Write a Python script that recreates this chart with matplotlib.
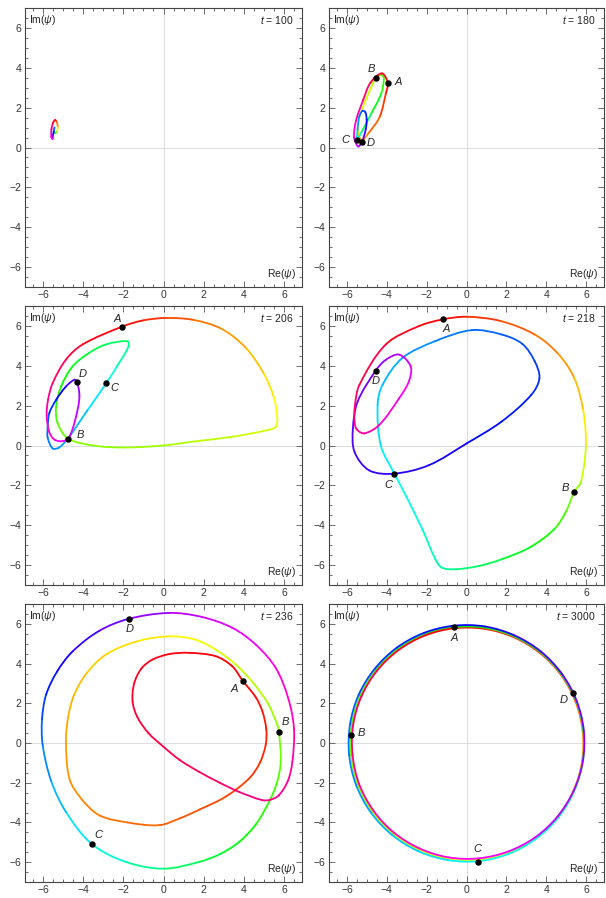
import matplotlib
matplotlib.use('Agg')
import matplotlib.pyplot as plt
import numpy as np
from matplotlib.colors import hsv_to_rgb
from matplotlib.patches import PathPatch
from matplotlib.path import Path
from matplotlib.ticker import MultipleLocator

plt.rcParams['font.family'] = ['Liberation Sans', 'DejaVu Sans']
plt.rcParams['mathtext.fontset'] = 'custom'
plt.rcParams['mathtext.rm'] = 'Liberation Sans'
plt.rcParams['mathtext.it'] = 'Liberation Sans:italic'

# ---- data: points along each closed curve + hue (phase) ----
# t = 100
x100 = [-5.40, -5.31, -5.27, -5.31, -5.40, -5.45, -5.43, -5.47, -5.51, -5.53, -5.59, -5.58, -5.50]
y100 = [1.38, 1.26, 1.02, 0.80, 0.72, 0.88, 1.00, 0.80, 0.60, 0.43, 0.54, 0.92, 1.24]
h100 = [0.0, 0.06, 0.12, 0.20, 0.30, 0.45, 0.55, 0.65, 0.72, 0.78, 0.85, 0.90, 0.96]

# t = 180
x180 = [-3.95, -4.05, -4.36, -4.94, -5.25, -5.42, -5.40, -5.07, -4.70, -4.56, -4.30, -4.15,
        -4.28, -4.78, -5.27, -5.49, -5.47, -5.38, -5.22, -5.08, -5.01, -5.06, -5.24, -5.44,
        -5.64, -5.54, -5.19, -4.82, -4.25]
y180 = [3.25, 2.70, 1.53, 0.69, 0.35, 0.70, 1.40, 2.35, 3.20, 3.47, 3.65, 3.50,
        2.71, 1.70, 0.77, 0.40, 0.90, 1.55, 1.84, 1.78, 1.40, 0.90, 0.30, 0.05,
        0.52, 1.36, 2.37, 3.25, 3.72]
h180 = [0.0, 0.02, 0.05, 0.08, 0.10, 0.13, 0.15, 0.18, 0.22, 0.25, 0.27, 0.29,
        0.32, 0.37, 0.43, 0.50, 0.54, 0.58, 0.61, 0.63, 0.66, 0.69, 0.75, 0.79,
        0.84, 0.87, 0.91, 0.95, 0.98]
mx180 = [-3.95, -4.56, -5.49, -5.24]
my180 = [3.25, 3.47, 0.40, 0.30]

# t = 206
x206 = [-2.05, -1.0, 0.15, 1.5, 2.9, 4.1, 5.0, 5.5, 5.67, 5.6, 5.3, 3.5, 1.5, 0.0, -2.0, -3.5,
        -4.76, -5.27, -5.35, -5.1, -4.53, -3.7, -2.87, -1.79, -1.75, -2.3, -2.85, -3.8, -4.76,
        -5.2, -5.52, -5.77, -5.77, -5.69, -5.35, -4.86, -4.44, -4.31, -4.19, -4.36, -4.69,
        -5.0, -5.44, -5.7, -5.82, -5.75, -5.52, -4.86, -4.03]
y206 = [5.97, 6.28, 6.40, 6.30, 5.85, 4.90, 3.60, 2.40, 1.40, 0.95, 0.80, 0.45, 0.20, 0.0, -0.10, 0.0,
        0.35, 1.11, 1.95, 2.96, 3.97, 4.65, 5.07, 5.23, 4.95, 4.0, 3.13, 1.75, 0.35,
        -0.10, -0.15, 0.40, 0.90, 1.62, 2.29, 2.96, 3.30, 3.21, 2.45, 1.44, 0.43,
        0.22, 0.30, 0.70, 1.50, 2.30, 3.13, 4.31, 5.07]
h206 = [0.0, .02, .04, .065, .09, .115, .14, .16, .175, .185, .19, .205, .215, .225, .235, .243,
        .25, .28, .30, .32, .345, .37, .39, .41, .425, .46, .50, .53, .555,
        .565, .575, .59, .605, .625, .65, .69, .73, .75, .78, .80, .82,
        .83, .845, .86, .88, .90, .92, .95, .975]
mx206 = [-2.05, -4.76, -2.85, -4.31]
my206 = [5.97, 0.35, 3.13, 3.21]

# t = 218
x218 = [-1.18, 0.0, 1.7, 3.42, 4.6, 5.41, 5.85, 5.99, 5.74, 5.41, 5.0, 4.41, 3.2, 1.76, 0.6,
        -0.56, -1.23, -1.56, -2.22, -3.22, -3.62, -4.3, -4.46, -4.21, -3.22, -1.56, 0.27,
        1.76, 2.8, 3.42, 3.66, 3.25, 1.76, 0.0, -1.89, -3.62, -4.88, -5.62, -5.7, -5.46,
        -4.56, -4.05, -3.38, -2.8, -2.89, -3.38, -4.38, -5.12, -5.5, -5.62, -5.6, -5.37,
        -4.05, -2.39]
y218 = [6.33, 6.46, 6.25, 5.57, 4.6, 3.38, 1.8, 0.02, -1.84, -2.31, -3.3, -4.19, -5.1, -5.71, -6.05,
        -6.21, -6.13, -5.71, -4.19, -2.17, -1.41, 0.0, 2.04, 3.05, 4.39, 5.24, 5.79,
        5.57, 5.1, 4.23, 3.38, 2.54, 1.2, 0.1, -0.99, -1.41, -1.25, -0.32, 0.86, 2.21,
        3.75, 4.3, 4.56, 3.97, 3.22, 2.37, 1.03, 0.61, 0.8, 1.2, 2.0, 3.05,
        5.07, 5.99]
h218 = [0.0, .02, .045, .07, .09, .11, .14, .17, .23, .25, .28, .31, .34, .37, .40,
        .42, .44, .45, .47, .49, .50, .515, .53, .54, .56, .58, .595,
        .605, .615, .625, .635, .645, .655, .67, .685, .695, .705, .715, .725, .735,
        .75, .77, .79, .81, .825, .845, .87, .89, .90, .91, .925, .94,
        .97, .99]
mx218 = [-1.18, 5.41, -3.62, -4.56]
my218 = [6.33, -2.31, -1.41, 3.75]

# t = 236
x236 = [3.95, 4.6, 4.93, 5.12, 5.09, 4.8, 4.26, 3.1, 1.8, 0.8, -0.22, -1.8, -3.2, -4.1, -4.69,
        -4.86, -4.75, -4.45, -3.8, -2.8, -1.2, 0.36, 1.6, 2.6, 3.6, 4.43, 5.2, 5.67,
        5.75, 5.84, 5.65, 5.26, 4.6, 3.76, 2.8, 1.77, 0.0, -1.87, -3.57, -4.86, -5.6, -6.02,
        -6.05, -5.85, -5.3, -4.53, -3.2, -1.74, 0.28, 1.9, 3.43, 4.6, 5.59, 6.2, 6.5, 6.42,
        6.2, 5.75, 5.35, 4.93, 3.76, 2.8, 1.77, 0.8, 0.0, -0.75, -1.3, -1.54, -1.46, -1.1,
        -0.55, 0.3, 1.28, 2.6, 3.43]
y236 = [3.13, 2.3, 1.58, 0.7, -0.1, -1.0, -1.79, -2.7, -3.35, -3.8, -4.14, -4.0, -3.64, -2.8, -1.79,
        0.07, 1.3, 2.43, 3.55, 4.5, 5.15, 5.37, 5.2, 4.7, 3.95, 3.07, 2.0, 0.91,
        0.57, -0.94, -2.0, -2.96, -4.1, -4.99, -5.6, -5.99, -6.33, -5.99, -5.09, -3.47, -1.9, -0.1,
        1.2, 2.43, 3.6, 4.61, 5.65, 6.25, 6.55, 6.35, 5.8, 4.95, 3.78, 2.3, 0.74, -0.94,
        -1.9, -2.63, -2.85, -2.88, -2.46, -2.0, -1.45, -0.85, -0.19, 0.5, 1.3, 2.09, 3.0, 3.75,
        4.2, 4.48, 4.54, 4.37, 3.86]
h236 = [0.0, .007, .012, .017, .022, .028, .035, .043, .05, .057, .065, .073, .08, .088, .095,
        .105, .113, .12, .13, .14, .15, .16, .17, .18, .195, .21, .225, .24,
        .25, .27, .285, .30, .32, .34, .36, .38, .41, .45, .50, .53, .56, .59,
        .61, .64, .665, .69, .72, .75, .78, .80, .82, .835, .85, .865, .875, .89,
        .898, .905, .91, .915, .925, .932, .94, .948, .955, .96, .965, .97, .976, .981,
        .985, .989, .993, .996, .998]
mx236 = [3.95, 5.75, -3.57, -1.74]
my236 = [3.13, 0.57, -5.09, 6.25]

# t = 3000: three windings of a near circle, radius read every 15 degrees (clockwise from A)
ang3000 = [96, 81, 66, 51, 36, 21, 6, -9, -24, -39, -54, -69,
           -84, -99, -114, -129, -144, -159, -174, -189, -204, -219, -234, -249]
r3000_1 = [5.81, 5.82, 5.83, 5.84, 5.85, 5.85, 5.86, 5.87, 5.88, 5.89, 5.90, 5.91,
           5.91, 5.90, 5.89, 5.88, 5.86, 5.85, 5.83, 5.84, 5.84, 5.85, 5.86, 5.86]
r3000_2 = [5.87, 5.88, 5.88, 5.89, 5.89, 5.90, 5.90, 5.91, 5.92, 5.94, 5.95, 5.97,
           5.98, 5.97, 5.96, 5.95, 5.94, 5.93, 5.92, 5.92, 5.93, 5.93, 5.94, 5.94]
r3000_3 = [5.94, 5.94, 5.93, 5.93, 5.92, 5.92, 5.92, 5.91, 5.89, 5.88, 5.87, 5.85,
           5.84, 5.83, 5.81, 5.80, 5.78, 5.77, 5.75, 5.76, 5.77, 5.78, 5.79, 5.80]
mx3000 = [-0.65, -5.82, 0.58, 5.32]
my3000 = [5.82, 0.39, -5.98, 2.53]

times = ['100', '180', '206', '218', '236', '3000']
letters = ['A', 'B', 'C', 'D']

# label offsets in pixels (dx right, dy up)
lab_off = {
    '180': [(10.7, 1), (-4.7, 9), (-11.6, 0), (9, -1.3)],
    '206': [(-4.7, 8), (12.3, 3.3), (8, -5), (5.3, 7.7)],
    '218': [(3.3, -9.3), (-9.3, 3.3), (-6, -11.7), (0.3, -10.7)],
    '236': [(-8.7, -8), (6, 10), (6.7, 8.7), (0.7, -10)],
    '3000': [(1, -11), (10.7, 2.3), (-0.3, 12.7), (-9.3, -7.7)],
}


def draw_loop(ax, x, y, h):
    '''closed curve through the read points, drawn as cubic Bezier pieces,
    each piece coloured by Hue[phase]'''
    p = np.column_stack([x, y]).astype(float)
    n = len(p)
    hh = np.append(h, 1.0)
    for i in range(n):
        pm, p0, p1, p2 = p[i - 1], p[i], p[(i + 1) % n], p[(i + 2) % n]
        d0 = np.hypot(*(p0 - pm))
        d1 = np.hypot(*(p1 - p0))
        d2 = np.hypot(*(p2 - p1))
        t0 = (p1 - pm) / (d0 + d1)   # tangent at p0 (per unit chord)
        t1 = (p2 - p0) / (d1 + d2)   # tangent at p1
        c1 = p0 + t0 * d1 / 3
        c2 = p1 - t1 * d1 / 3
        hue = ((hh[i] + hh[i + 1]) / 2) % 1
        path = Path([p0, c1, c2, p1], [Path.MOVETO, Path.CURVE4, Path.CURVE4, Path.CURVE4])
        ax.add_patch(PathPatch(path, fill=False, edgecolor=hsv_to_rgb([hue, 1, 1]), lw=1.3,
                               capstyle='round', joinstyle='round', zorder=3))


def style_axes(ax, t):
    ax.set_xlim(-6.9, 6.9)
    ax.set_ylim(-7, 7)
    ax.xaxis.set_major_locator(MultipleLocator(2))
    ax.yaxis.set_major_locator(MultipleLocator(2))
    ax.xaxis.set_minor_locator(MultipleLocator(0.5))
    ax.yaxis.set_minor_locator(MultipleLocator(0.5))
    ax.tick_params(which='both', direction='in', top=True, right=True,
                   colors='#555555', labelcolor='#333333', labelsize=7.5, width=0.6)
    ax.tick_params(which='major', length=4, pad=2.5)
    ax.tick_params(which='minor', length=2)
    for s in ax.spines.values():
        s.set_color('#444444')
        s.set_linewidth(0.8)
    ax.axhline(0, color='#dcdcdc', lw=0.7, zorder=1)
    ax.axvline(0, color='#dcdcdc', lw=0.7, zorder=1)
    ax.text(0.015, 0.957, r'Im($\psi$)', transform=ax.transAxes, ha='left', va='center',
            fontsize=7.5, color='#222222')
    ax.text(0.97, 0.957, r'$t$ = ' + t, transform=ax.transAxes, ha='right', va='center',
            fontsize=7.5, color='#222222')
    ax.text(0.98, 0.047, r'Re($\psi$)', transform=ax.transAxes, ha='right', va='center',
            fontsize=7.5, color='#222222')


# build the t = 3000 curve from its polar readings
x3000, y3000 = [], []
for rr in (r3000_1, r3000_2, r3000_3):
    th = np.radians(ang3000)
    x3000 += list(np.array(rr) * np.cos(th))
    y3000 += list(np.array(rr) * np.sin(th))
h3000 = np.arange(len(x3000)) / len(x3000)

curves = {
    '100': (x100, y100, h100, None, None),
    '180': (x180, y180, h180, mx180, my180),
    '206': (x206, y206, h206, mx206, my206),
    '218': (x218, y218, h218, mx218, my218),
    '236': (x236, y236, h236, mx236, my236),
    '3000': (x3000, y3000, h3000, mx3000, my3000),
}

fig = plt.figure(figsize=(6.06, 8.98), dpi=100)
col_l = [25 / 606, 329 / 606]
col_w = [277 / 606, 275 / 606]
row_b = [(898 - 287) / 898, (898 - 585) / 898, (898 - 882) / 898]
row_h = [279 / 898, 279 / 898, 278 / 898]

for k, t in enumerate(times):
    r, c = divmod(k, 2)
    ax = fig.add_axes([col_l[c], row_b[r], col_w[c], row_h[r]])
    style_axes(ax, t)
    x, y, h, mx, my = curves[t]
    draw_loop(ax, x, y, h)
    if mx is not None:
        ax.plot(mx, my, 'o', color='black', ms=3.6, zorder=5)
        for lab, px, py, (dx, dy) in zip(letters, mx, my, lab_off[t]):
            ax.annotate(lab, (px, py), xytext=(dx * 0.72, dy * 0.72), textcoords='offset points',
                        ha='center', va='center', fontsize=8, fontstyle='italic', color='#222222')

fig.savefig('out.png', dpi=100)
